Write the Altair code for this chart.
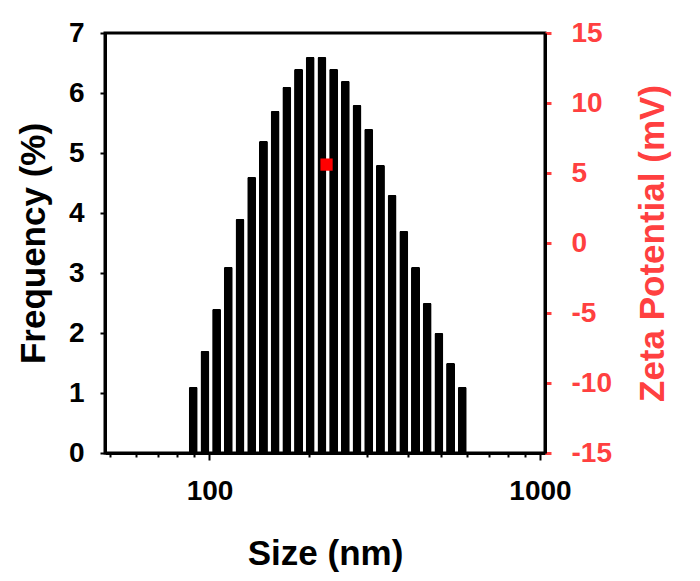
import altair as alt
import pandas as pd

# Size distribution (bars)
sizes = [89.3, 96.9, 105.1, 114.0, 123.7, 134.2, 145.6, 158.0, 171.4, 186.0,
         201.7, 218.9, 237.5, 257.6, 279.5, 303.2, 329.0, 356.9, 387.2, 420.1,
         455.7, 494.4, 536.4, 581.9]
freq = [1.1, 1.7, 2.4, 3.1, 3.9, 4.6, 5.2, 5.7, 6.1, 6.4, 6.6, 6.6,
        6.4, 6.2, 5.8, 5.4, 4.8, 4.3, 3.7, 3.1, 2.5, 2.0, 1.5, 1.1]

# Zeta potential point
zeta_size = [226]
zeta_val = [5.6]

x_ticks = [50, 60, 70, 80, 90, 100, 200, 300, 400, 500, 600, 700, 800, 900, 1000]
y_left_ticks = [0, 1, 2, 3, 4, 5, 6, 7]
y_right_ticks = [-15, -10, -5, 0, 5, 10, 15]

FONT = "Liberation Sans"
RED = "#FF4040"

bars_df = pd.DataFrame({"Size": sizes, "Freq": freq})
zeta_df = pd.DataFrame({"Size": zeta_size, "Zeta": zeta_val})

xscale = alt.Scale(type="log", domain=[50, 1000], nice=False)

x_axis = alt.Axis(
    values=x_ticks,
    labelExpr="(datum.value == 100 || datum.value == 1000) ? '' + datum.value : ''",
    tickSize={"condition": {"test": "datum.value == 100 || datum.value == 1000", "value": 7}, "value": 4},
    tickWidth=2, tickColor="black", domainWidth=3, domainColor="black",
    labelFont=FONT, labelFontWeight="bold", labelFontSize=28, labelColor="black",
    labelPadding=17, labelFlush=False, labelOverlap=False,
    title="Size (nm)", titleFont=FONT, titleFontWeight="bold", titleFontSize=35,
    titleColor="black", titleX=220, titleY=100, titleAlign="center",
    titleBaseline="middle", grid=False,
)

bars = alt.Chart(bars_df).mark_bar(
    color="black", size=9, cornerRadiusTopLeft=1.5, cornerRadiusTopRight=1.5
).encode(
    x=alt.X("Size:Q", scale=xscale, axis=x_axis),
    y=alt.Y("Freq:Q", scale=alt.Scale(domain=[0, 7], nice=False),
            axis=alt.Axis(values=y_left_ticks, orient="left", tickSize=5, tickWidth=2,
                          tickColor="black", domainWidth=3, domainColor="black",
                          labelExpr="'' + datum.value",
                          labelFont=FONT, labelFontWeight="bold", labelFontSize=28,
                          labelColor="black", labelPadding=16, labelFlush=False,
                          title="Frequency (%)", titleFont=FONT, titleFontWeight="bold",
                          titleFontSize=35, titleColor="black", titleX=-72, titleY=210,
                          titleAngle=270, titleAlign="center", titleBaseline="middle",
                          grid=False)),
)

point = alt.Chart(zeta_df).mark_point(
    shape="square", filled=True, color="#FF0000", size=150, opacity=1
).encode(
    x=alt.X("Size:Q", scale=xscale),
    y=alt.Y("Zeta:Q", scale=alt.Scale(domain=[-15, 15], nice=False),
            axis=alt.Axis(values=y_right_ticks, orient="right", tickSize=6, tickWidth=3,
                          tickColor=RED, domainWidth=3, domainColor="black",
                          labelExpr="'' + datum.value",
                          labelFont=FONT, labelFontWeight="bold", labelFontSize=28,
                          labelColor=RED, labelPadding=20, labelFlush=False,
                          title="Zeta Potential (mV)", titleFont=FONT, titleFontWeight="bold",
                          titleFontSize=35, titleColor=RED, titleX=107, titleY=210,
                          titleAngle=270, titleAlign="center", titleBaseline="middle",
                          grid=False)),
)

chart = alt.layer(bars, point).resolve_scale(y="independent").properties(
    width=440, height=420,
    autosize=alt.AutoSizeParams(type="none"),
    padding={"left": 105, "top": 33, "right": 155, "bottom": 128},
    background="white",
).configure_view(stroke="black", strokeWidth=3)

chart.save("out.html", embed_options={"renderer": "svg", "actions": False})
